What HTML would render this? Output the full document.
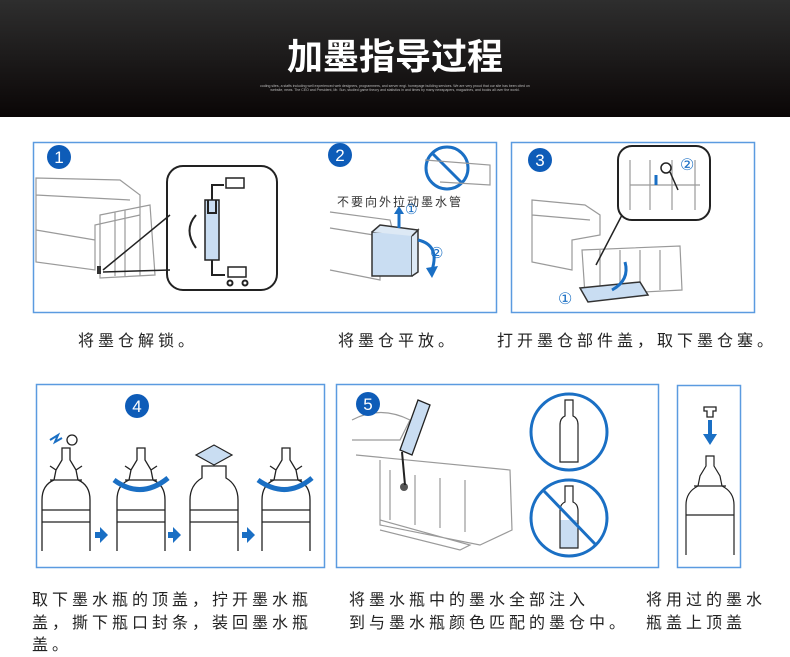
<!DOCTYPE html>
<html><head><meta charset="utf-8"><style>
html,body{margin:0;padding:0;background:#fff;}
svg{display:block}
.t{font-family:"Liberation Sans","Noto Sans CJK SC",sans-serif;font-size:16px;fill:#222;letter-spacing:4px}
.g{fill:none;stroke:#9a9a9a;stroke-width:1.2}
.k{fill:none;stroke:#222;stroke-width:2}
.lb{fill:#c9ddf2}
.num{fill:#0e5cb8}
.nt{font-family:"Liberation Sans",sans-serif;font-size:17px;fill:#fff;text-anchor:middle}
</style></head><body>
<svg width="790" height="657" viewBox="0 0 790 657" xmlns="http://www.w3.org/2000/svg">
<defs>
<linearGradient id="hg" x1="0" y1="0" x2="0" y2="1"><stop offset="0" stop-color="#2e2e2e"/><stop offset="1" stop-color="#0a0606"/></linearGradient>
<g id="bt" fill="none" stroke="#222" stroke-width="1.3">
<path d="M0 551 V500 Q0 485 12 480 L14 470 L20 460 V448 L28 448 V460 L34 470 L36 480 Q48 485 48 500 V551 M0 510 H48 M0 522 H48 M8 480 H40"/>
<path d="M14 470 L8 466 M34 470 L40 466"/>
</g>
</defs>
<rect x="0" y="0" width="790" height="117" fill="url(#hg)"/>
<text x="395" y="69" text-anchor="middle" font-family="Liberation Sans,Noto Sans CJK SC,sans-serif" font-size="36" font-weight="bold" fill="#fff">加墨指导过程</text>
<text x="395" y="87" text-anchor="middle" font-family="Liberation Sans,sans-serif" font-size="3.5" fill="#bbb">coding sites, a staffs including well experienced web designers, programmers, and server engi. homepage building services. We are very proud that our site has been cited on</text>
<text x="395" y="91" text-anchor="middle" font-family="Liberation Sans,sans-serif" font-size="3.5" fill="#bbb">website, news. The CEO and President, Mr. Sun, studied game theory and statistics in and times by many newspapers, magazines, and books all over the world.</text>

<!-- Box 1+2 -->
<rect x="33.5" y="142.5" width="463" height="170" fill="#fff" stroke="#5b9be0" stroke-width="1.5"/>
<circle cx="59" cy="157" r="12" class="num"/><text x="59" y="163" class="nt">1</text>
<path class="g" d="M36 178 L120 180 L140 195 L140 215 L95 225 L95 270 L36 262 Z M36 195 L130 200 M36 230 L95 240 M100 215 L150 205 L155 275 L100 278 Z M115 212 V276 M125 210 V276 M140 208 V276"/>
<rect x="97" y="266" width="4" height="8" fill="#333"/>
<path d="M103 270 L170 215 M103 272 L170 270" stroke="#222" stroke-width="1.5" fill="none"/>
<rect x="167" y="166" width="110" height="124" rx="16" class="k" fill="#fff"/>
<rect x="205" y="200" width="14" height="60" class="lb" stroke="#222" stroke-width="1.5"/>
<path class="k" stroke-width="1.5" d="M208 200 V213 H216 V200 M212 200 V185 H224 M212 260 V275 H225"/>
<rect x="226" y="178" width="18" height="10" fill="#fff" stroke="#222" stroke-width="1.5"/>
<rect x="228" y="267" width="18" height="10" fill="#fff" stroke="#222" stroke-width="1.5"/>
<circle cx="230" cy="283" r="2.5" class="k" stroke-width="1.5"/><circle cx="245" cy="283" r="2.5" class="k" stroke-width="1.5"/>
<path class="k" stroke-width="1.5" d="M196 215 Q183 230 196 248"/>
<!-- panel 2 -->
<circle cx="340" cy="155" r="12" class="num"/><text x="340" y="161" class="nt">2</text>
<circle cx="447" cy="168" r="21" fill="none" stroke="#1a6fc4" stroke-width="3"/>
<path d="M432 153 L462 183" stroke="#1a6fc4" stroke-width="3"/>
<path class="g" d="M425 160 L490 165 L490 185 L440 182"/>
<text x="337" y="206" font-family="Liberation Sans,Noto Sans CJK SC,sans-serif" font-size="12" fill="#333" letter-spacing="2">不要向外拉动墨水管</text>
<path class="g" d="M330 212 L390 220 L395 240 L380 250 L380 280 L330 270 M330 228 L380 236"/>
<rect x="372" y="232" width="40" height="44" class="lb" stroke="#333" stroke-width="1.5"/>
<path d="M372 232 L380 225 L418 230 L412 236 M412 236 L418 230 L418 272 L412 276" fill="#dde9f5" stroke="#333" stroke-width="1.5"/>
<path d="M399 228 V212" stroke="#1a6fc4" stroke-width="3"/><path d="M394 214 L399 206 L404 214Z" fill="#1a6fc4"/>
<text x="405" y="214" font-family="Liberation Sans,sans-serif" font-size="14" fill="#1a6fc4">①</text>
<path d="M418 240 Q440 245 432 270" stroke="#1a6fc4" stroke-width="3" fill="none"/><path d="M426 268 L432 278 L438 266Z" fill="#1a6fc4"/>
<text x="430" y="258" font-family="Liberation Sans,sans-serif" font-size="15" fill="#1a6fc4">②</text>
<!-- Box 3 -->
<rect x="511.5" y="142.5" width="243" height="170" fill="#fff" stroke="#5b9be0" stroke-width="1.5"/>
<circle cx="540" cy="160" r="12" class="num"/><text x="540" y="166" class="nt">3</text>
<path class="g" d="M532 200 L585 205 L600 215 L600 235 L572 240 L572 270 L532 262 Z M532 215 L590 220"/>
<path class="g" d="M582 250 L680 246 L682 290 L585 295 Z M600 250 V290 M620 250 V290 M640 250 V290 M660 250 V290"/>
<path d="M580 288 L640 282 L648 295 L588 302Z" class="lb" stroke="#333" stroke-width="1.5"/>
<path d="M625 262 Q630 280 612 290" stroke="#1a6fc4" stroke-width="3" fill="none"/>
<text x="558" y="304" font-family="Liberation Sans,sans-serif" font-size="16" fill="#1a6fc4">①</text>
<path d="M596 265 L622 215" stroke="#222" stroke-width="1.5"/>
<rect x="618" y="146" width="92" height="74" rx="14" fill="#fff" class="k"/>
<path class="g" d="M630 160 V210 M650 160 V210 M672 160 V210 M695 160 V210 M630 185 H700"/>
<circle cx="666" cy="168" r="5" fill="#fff" stroke="#222" stroke-width="1.5"/>
<path d="M670 172 L678 190" stroke="#222" stroke-width="1.5"/>
<path d="M656 185 V175" stroke="#1a6fc4" stroke-width="3"/>
<text x="680" y="170" font-family="Liberation Sans,sans-serif" font-size="16" fill="#1a6fc4">②</text>
<!-- captions row1 -->
<text x="78" y="346" class="t">将墨仓解锁。</text>
<text x="338" y="346" class="t">将墨仓平放。</text>
<text x="497" y="346" class="t" letter-spacing="3.3">打开墨仓部件盖，取下墨仓塞。</text>
<!-- Box 4 -->
<rect x="36.5" y="384.5" width="288" height="183" fill="#fff" stroke="#5b9be0" stroke-width="1.5"/>
<circle cx="137" cy="406" r="12" class="num"/><text x="137" y="412" class="nt">4</text>
<use href="#bt" x="42" y="0"/>
<use href="#bt" x="117" y="0"/>
<path fill="none" stroke="#222" stroke-width="1.3" d="M190 551 V500 Q190 485 202 478 V466 H226 V478 Q238 485 238 500 V551 M190 510 H238 M190 522 H238"/>
<path d="M196 455 L214 445 L232 455 L214 465Z" class="lb" stroke="#222" stroke-width="1.2"/>
<use href="#bt" x="262" y="0"/>
<path d="M114 480 Q141 500 168 478" stroke="#1a6fc4" stroke-width="5" fill="none"/>
<path d="M258 480 Q286 500 312 478" stroke="#1a6fc4" stroke-width="5" fill="none"/>
<path d="M50 440 L58 435 L55 442 L62 438" stroke="#1a6fc4" stroke-width="2" fill="none"/>
<circle cx="72" cy="440" r="5" fill="#fff" stroke="#222" stroke-width="1.3"/>
<path d="M95 532 h5 v-5 l8 8 l-8 8 v-5 h-5z" fill="#1a6fc4"/>
<path d="M168 532 h5 v-5 l8 8 l-8 8 v-5 h-5z" fill="#1a6fc4"/>
<path d="M242 532 h5 v-5 l8 8 l-8 8 v-5 h-5z" fill="#1a6fc4"/>
<!-- Box 5 -->
<rect x="336.5" y="384.5" width="322" height="183" fill="#fff" stroke="#5b9be0" stroke-width="1.5"/>
<path class="g" d="M352 420 Q380 405 410 420 L400 440 L352 440 M356 455 L510 470 L512 530 L480 545 L380 525 L380 460 M390 470 V520 M415 475 V525 M440 478 V528 M465 480 V532 M380 520 L470 545 L460 550 L380 530"/>
<path d="M418 400 L430 405 L412 455 L400 450Z" class="lb" stroke="#222" stroke-width="1.3"/>
<circle cx="404" cy="487" r="4" fill="#555"/>
<path d="M402 452 L405 485" stroke="#222" stroke-width="2"/>
<circle cx="368" cy="404" r="12" class="num"/><text x="368" y="410" class="nt">5</text>
<circle cx="569" cy="432" r="38" fill="#fff" stroke="#1a6fc4" stroke-width="3"/>
<path fill="none" stroke="#222" stroke-width="1.2" d="M560 462 V425 Q560 418 565 416 V400 H573 V416 Q578 418 578 425 V462 Z"/>
<circle cx="569" cy="518" r="38" fill="#fff" stroke="#1a6fc4" stroke-width="3"/>
<path d="M560 520 H578 V548 H560Z" class="lb"/>
<path fill="none" stroke="#222" stroke-width="1.2" d="M560 548 V511 Q560 504 565 502 V486 H573 V502 Q578 504 578 511 V548 Z"/>
<path d="M543 490 L596 545" stroke="#1a6fc4" stroke-width="3"/>
<!-- Box 6 -->
<rect x="677.5" y="385.5" width="63" height="182" fill="#fff" stroke="#5b9be0" stroke-width="1.5"/>
<path d="M704 407 h12 v4 h-3 v6 h-6 v-6 h-3z" fill="#fff" stroke="#222" stroke-width="1.3"/>
<path d="M710 420 V436" stroke="#1a6fc4" stroke-width="4"/><path d="M703 434 L710 445 L717 434Z" fill="#1a6fc4"/>
<path fill="none" stroke="#222" stroke-width="1.2" d="M686 555 V505 Q686 492 698 486 L700 476 L706 466 V456 L714 456 V466 L720 476 L722 486 Q734 492 734 505 V555 M686 515 H734 M694 486 H726"/>
<!-- captions row2 -->
<text x="32" y="605" class="t" letter-spacing="4.3">取下墨水瓶的顶盖，拧开墨水瓶</text>
<text x="32" y="628" class="t" letter-spacing="4.3">盖，撕下瓶口封条，装回墨水瓶</text>
<text x="32" y="650" class="t">盖。</text>
<text x="349" y="605" class="t" letter-spacing="3.4">将墨水瓶中的墨水全部注入</text>
<text x="349" y="628" class="t" letter-spacing="3.4">到与墨水瓶颜色匹配的墨仓中。</text>
<text x="646" y="605" class="t" letter-spacing="3">将用过的墨水</text>
<text x="646" y="628" class="t" letter-spacing="3">瓶盖上顶盖</text>
</svg>
</body></html>
